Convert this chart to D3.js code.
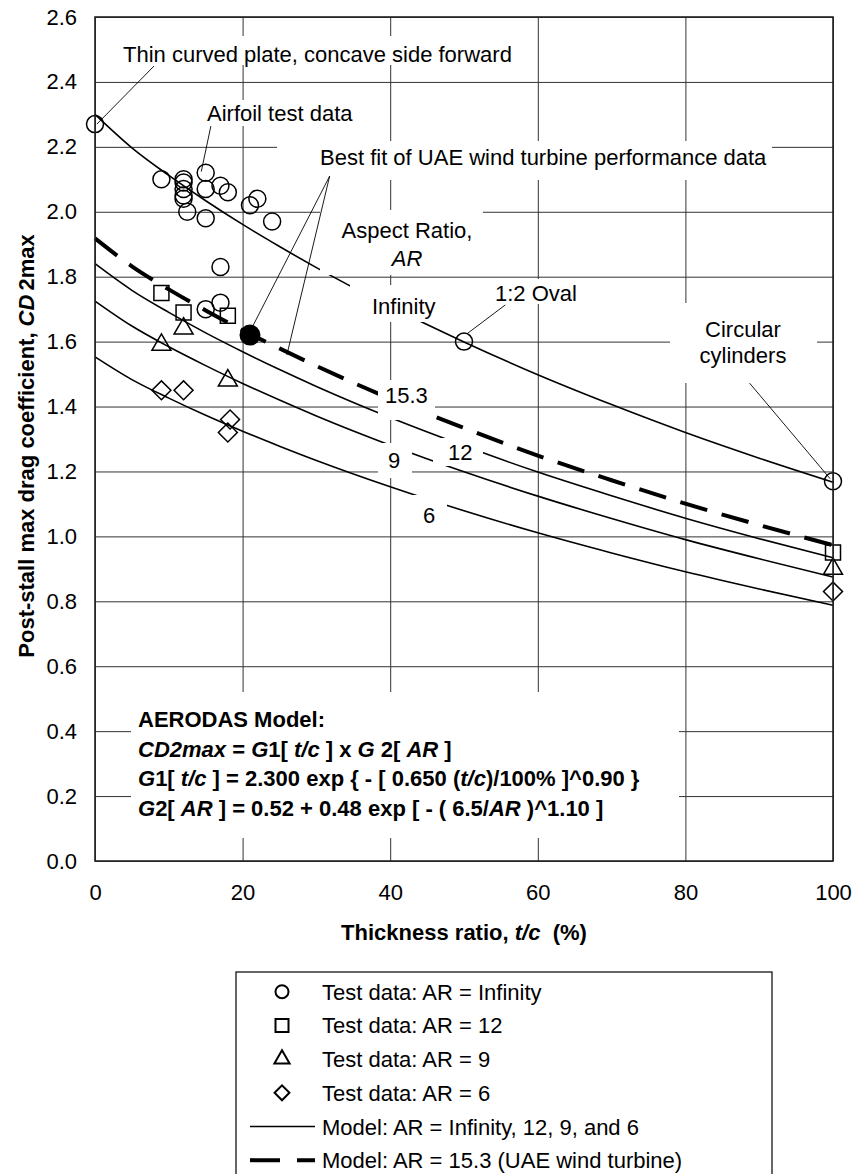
<!DOCTYPE html>
<html>
<head>
<meta charset="utf-8">
<script src="https://cdn.jsdelivr.net/npm/d3@7"></script>
<style>
    body { margin: 0; background: #fff; }
    svg { font-family: Arial, "Liberation Sans", sans-serif; }
</style>
</head>
<body>
<div id="chart"></div>
<script>
// thickness ratio t/c (%) where the model curves were read
const tcGrid = [0, 5, 10, 15, 20, 25, 30, 40, 50, 60, 70, 80, 90, 100];

// model curves, CD2max
const modelInf = [2.300, 2.197, 2.112, 2.034, 1.961, 1.893, 1.828, 1.708, 1.599, 1.498, 1.406, 1.320, 1.241, 1.167];
const model153 = [1.918, 1.832, 1.761, 1.696, 1.635, 1.579, 1.525, 1.424, 1.334, 1.249, 1.173, 1.101, 1.035, 0.973];
const model12 = [1.840, 1.758, 1.690, 1.627, 1.569, 1.514, 1.462, 1.366, 1.279, 1.198, 1.125, 1.056, 0.993, 0.934];
const model9 = [1.725, 1.648, 1.584, 1.526, 1.471, 1.420, 1.371, 1.281, 1.199, 1.124, 1.055, 0.990, 0.931, 0.875];
const model6 = [1.553, 1.483, 1.426, 1.373, 1.324, 1.278, 1.234, 1.153, 1.079, 1.011, 0.949, 0.891, 0.838, 0.788];

// test data [t/c, CD2max]
const testInf = [
    [0, 2.27], [9, 2.10], [12, 2.10], [12, 2.09], [12, 2.07], [12, 2.05], [12, 2.04], [12.5, 2.00],
    [15, 2.12], [15, 2.07], [15, 1.98], [17, 2.08], [18, 2.06], [21, 2.02], [22, 2.04], [24, 1.97],
    [17, 1.83], [17, 1.72], [15, 1.70], [50, 1.60], [100, 1.17]
];
const test12 = [[9, 1.75], [12, 1.69], [18, 1.68], [100, 0.95]];
const test9 = [[9, 1.59], [12, 1.64], [18, 1.48], [100, 0.90]];
const test6 = [[9, 1.45], [12, 1.45], [18.3, 1.36], [18, 1.32], [100, 0.83]];
const uaeFit = [[21, 1.62]];

const xTicks = [0, 20, 40, 60, 80, 100];
const yTicks = [0, 0.2, 0.4, 0.6, 0.8, 1.0, 1.2, 1.4, 1.6, 1.8, 2.0, 2.2, 2.4, 2.6];

const width = 855,
    height = 1174,
    plot = { left: 95, right: 833, top: 17, bottom: 861 };

const svg = d3.select('#chart').append('svg')
    .attr('width', width)
    .attr('height', height);

const x = d3.scaleLinear().domain([0, 100]).range([plot.left, plot.right]);
const y = d3.scaleLinear().domain([0, 2.6]).range([plot.bottom, plot.top]);

// Grid

svg.append('g')
    .attr('transform', 'translate(' + plot.left + ',0)')
    .call(d3.axisLeft(y).tickValues(yTicks).tickSize(-(plot.right - plot.left)).tickFormat(''))
    .call(g => g.select('.domain').remove())
    .call(g => g.selectAll('line').attr('stroke', '#333').attr('stroke-width', 1));

svg.append('g')
    .attr('transform', 'translate(0,' + plot.bottom + ')')
    .call(d3.axisBottom(x).tickValues(xTicks).tickSize(-(plot.bottom - plot.top)).tickFormat(''))
    .call(g => g.select('.domain').remove())
    .call(g => g.selectAll('line').attr('stroke', '#333').attr('stroke-width', 1));

// Axis labels

svg.append('g')
    .attr('transform', 'translate(' + plot.left + ',0)')
    .call(d3.axisLeft(y).tickValues(yTicks).tickSize(0).tickPadding(18).tickFormat(d3.format('.1f')))
    .call(g => g.select('.domain').remove())
    .call(g => g.selectAll('text').attr('font-size', 22).attr('font-family', 'Arial, "Liberation Sans", sans-serif').attr('fill', '#000'));

svg.append('g')
    .attr('transform', 'translate(0,' + plot.bottom + ')')
    .call(d3.axisBottom(x).tickValues(xTicks).tickSize(0).tickPadding(23))
    .call(g => g.select('.domain').remove())
    .call(g => g.selectAll('text').attr('font-size', 22).attr('font-family', 'Arial, "Liberation Sans", sans-serif').attr('fill', '#000'));

// Curves

const line = d3.line()
    .x(d => x(d[0]))
    .y(d => y(d[1]))
    .curve(d3.curveMonotoneX);

[modelInf, model12, model9, model6].forEach(vals => {
    svg.append('path')
        .attr('d', line(tcGrid.map((t, i) => [t, vals[i]])))
        .attr('fill', 'none')
        .attr('stroke', '#000')
        .attr('stroke-width', 1.6);
});

svg.append('path')
    .attr('d', line(tcGrid.map((t, i) => [t, model153[i]])))
    .attr('fill', 'none')
    .attr('stroke', '#000')
    .attr('stroke-width', 4)
    .attr('stroke-dasharray', '28,15');

// Markers

function markers(data, type, size, rotate) {
    svg.append('g').selectAll('path')
        .data(data)
        .enter()
        .append('path')
        .attr('d', d3.symbol().type(type).size(size))
        .attr('transform', d => 'translate(' + x(d[0]) + ',' + y(d[1]) + ')' + (rotate ? ' rotate(45)' : ''))
        .attr('fill', 'none')
        .attr('stroke', '#000')
        .attr('stroke-width', 1.5);
}

markers(testInf, d3.symbolCircle, Math.PI * 8.5 * 8.5);
markers(test12, d3.symbolSquare, 225);
markers(test9, d3.symbolTriangle, 156);
markers(test6, d3.symbolSquare, 180, true);

svg.append('g').selectAll('circle')
    .data(uaeFit)
    .enter()
    .append('circle')
    .attr('cx', d => x(d[0]))
    .attr('cy', d => y(d[1]))
    .attr('r', 10.5)
    .attr('fill', '#000');

// Text boxes

function writeLine(sel, segs) {
    segs.forEach(s => {
        const ts = sel.append('tspan').text(s[0]).style('white-space', 'pre');
        if (s[1].indexOf('b') >= 0) ts.attr('font-weight', 'bold');
        if (s[1].indexOf('i') >= 0) ts.attr('font-style', 'italic');
    });
}

const notes = [
    { x: 123, y: 62, anchor: 'start', box: [117, 36, 520, 65], lines: [[['Thin curved plate, concave side forward', '']]] },
    { x: 207, y: 121, anchor: 'start', box: [200, 100, 358, 126], lines: [[['Airfoil test data', '']]] },
    { x: 320, y: 165, anchor: 'start', box: [277, 141, 772, 180], lines: [[['Best fit of UAE wind turbine performance data', '']]] },
    { x: 407, y: 238, anchor: 'middle', box: [320, 210, 483, 275], lines: [[['Aspect Ratio,', '']], [['AR', 'i']]], lh: 28 },
    { x: 372, y: 314, anchor: 'start', box: [350, 285, 458, 322], lines: [[['Infinity', '']]] },
    { x: 495, y: 301, anchor: 'start', box: [485, 279, 582, 304], lines: [[['1:2 Oval', '']]] },
    { x: 743, y: 337, anchor: 'middle', box: [670, 303, 817, 383], lines: [[['Circular', '']], [['cylinders', '']]], lh: 26 },
    { x: 385, y: 403, anchor: 'start', box: [378, 380, 435, 420], lines: [[['15.3', '']]] },
    { x: 448, y: 460, anchor: 'start', box: [433, 438, 483, 466], lines: [[['12', '']]] },
    { x: 388, y: 468, anchor: 'start', box: [378, 443, 412, 478], lines: [[['9', '']]] },
    { x: 423, y: 523, anchor: 'start', box: [410, 495, 447, 530], lines: [[['6', '']]] },
    {
        x: 138, y: 727, anchor: 'start', box: [131, 692, 679, 838], lh: 29.7, lines: [
            [['AERODAS Model:', 'b']],
            [['CD2max', 'bi'], [' = ', 'b'], ['G', 'bi'], ['1[ ', 'b'], ['t/c', 'bi'], [' ] x ', 'b'], ['G', 'bi'], [' 2[ ', 'b'], ['AR', 'bi'], [' ]', 'b']],
            [['G', 'bi'], ['1[ ', 'b'], ['t/c', 'bi'], [' ] = 2.300 exp { - [ 0.650 (', 'b'], ['t/c', 'bi'], [')/100% ]^0.90 }', 'b']],
            [['G', 'bi'], ['2[ ', 'b'], ['AR', 'bi'], [' ] = 0.52 + 0.48 exp [ - ( 6.5/', 'b'], ['AR', 'bi'], [' )^1.10 ]', 'b']]
        ]
    }
];

notes.forEach(n => {
    svg.append('rect')
        .attr('x', n.box[0])
        .attr('y', n.box[1])
        .attr('width', n.box[2] - n.box[0])
        .attr('height', n.box[3] - n.box[1])
        .attr('fill', '#fff');

    n.lines.forEach((segs, i) => {
        const t = svg.append('text')
            .attr('x', n.x)
            .attr('y', n.y + i * (n.lh || 26))
            .attr('text-anchor', n.anchor)
            .attr('font-size', 22)
            .attr('fill', '#000');
        writeLine(t, segs);
    });
});

// Leader lines, ends given in data units
const leaders = [
    [[8.0, 2.449], [0.25, 2.27]],
    [[15.7, 2.264], [14.4, 2.124]],
    [[31.8, 2.110], [21.45, 1.651]],
    [[31.8, 2.110], [26.0, 1.559]],
    [[55.6, 1.713], [50.4, 1.624]],
    [[88.7, 1.472], [99.6, 1.178]]
];

svg.append('g').selectAll('line')
    .data(leaders)
    .enter()
    .append('line')
    .attr('x1', d => x(d[0][0]))
    .attr('y1', d => y(d[0][1]))
    .attr('x2', d => x(d[1][0]))
    .attr('y2', d => y(d[1][1]))
    .attr('stroke', '#000')
    .attr('stroke-width', 0.9);

// Plot border
svg.append('rect')
    .attr('x', plot.left)
    .attr('y', plot.top)
    .attr('width', plot.right - plot.left)
    .attr('height', plot.bottom - plot.top)
    .attr('fill', 'none')
    .attr('stroke', '#222')
    .attr('stroke-width', 1.6);

// Axis titles

const xTitle = svg.append('text')
    .attr('x', (plot.left + plot.right) / 2)
    .attr('y', 940)
    .attr('text-anchor', 'middle')
    .attr('font-size', 22)
    .attr('font-weight', 'bold');
writeLine(xTitle, [['Thickness ratio, ', 'b'], ['t/c', 'bi'], ['  (%)', 'b']]);

const yTitle = svg.append('text')
    .attr('transform', 'translate(34,446) rotate(-90)')
    .attr('text-anchor', 'middle')
    .attr('font-size', 22)
    .attr('font-weight', 'bold');
writeLine(yTitle, [['Post-stall max drag coefficient, ', 'b'], ['CD', 'bi']]);
yTitle.append('tspan').attr('dx', 4).text('2max');

// Legend

svg.append('rect')
    .attr('x', 236)
    .attr('y', 972)
    .attr('width', 536)
    .attr('height', 260)
    .attr('fill', '#fff')
    .attr('stroke', '#000')
    .attr('stroke-width', 1.2);

const legendItems = [
    { label: 'Test data: AR = Infinity', sym: d3.symbolCircle, size: Math.PI * 6.5 * 6.5 },
    { label: 'Test data: AR = 12', sym: d3.symbolSquare, size: 169 },
    { label: 'Test data: AR = 9', sym: d3.symbolTriangle, size: 100 },
    { label: 'Test data: AR = 6', sym: d3.symbolSquare, size: 110, rotate: true },
    { label: 'Model: AR = Infinity, 12, 9, and 6', line: 'solid' },
    { label: 'Model: AR = 15.3 (UAE wind turbine)', line: 'dash' }
];

const legend = svg.append('g');
legendItems.forEach((d, i) => {
    const cy = 991.7 + i * 33.7;
    if (d.sym) {
        legend.append('path')
            .attr('d', d3.symbol().type(d.sym).size(d.size))
            .attr('transform', 'translate(282,' + cy + ')' + (d.rotate ? ' rotate(45)' : ''))
            .attr('fill', 'none')
            .attr('stroke', '#000')
            .attr('stroke-width', 2);
    } else if (d.line === 'solid') {
        legend.append('line')
            .attr('x1', 250).attr('x2', 315)
            .attr('y1', cy).attr('y2', cy)
            .attr('stroke', '#000')
            .attr('stroke-width', 1.6);
    } else {
        legend.append('line')
            .attr('x1', 250).attr('x2', 315)
            .attr('y1', cy).attr('y2', cy)
            .attr('stroke', '#000')
            .attr('stroke-width', 4)
            .attr('stroke-dasharray', '30,17');
    }
    legend.append('text')
        .attr('x', 322)
        .attr('y', cy + 8)
        .attr('font-size', 22)
        .text(d.label);
});
</script>
</body>
</html>
